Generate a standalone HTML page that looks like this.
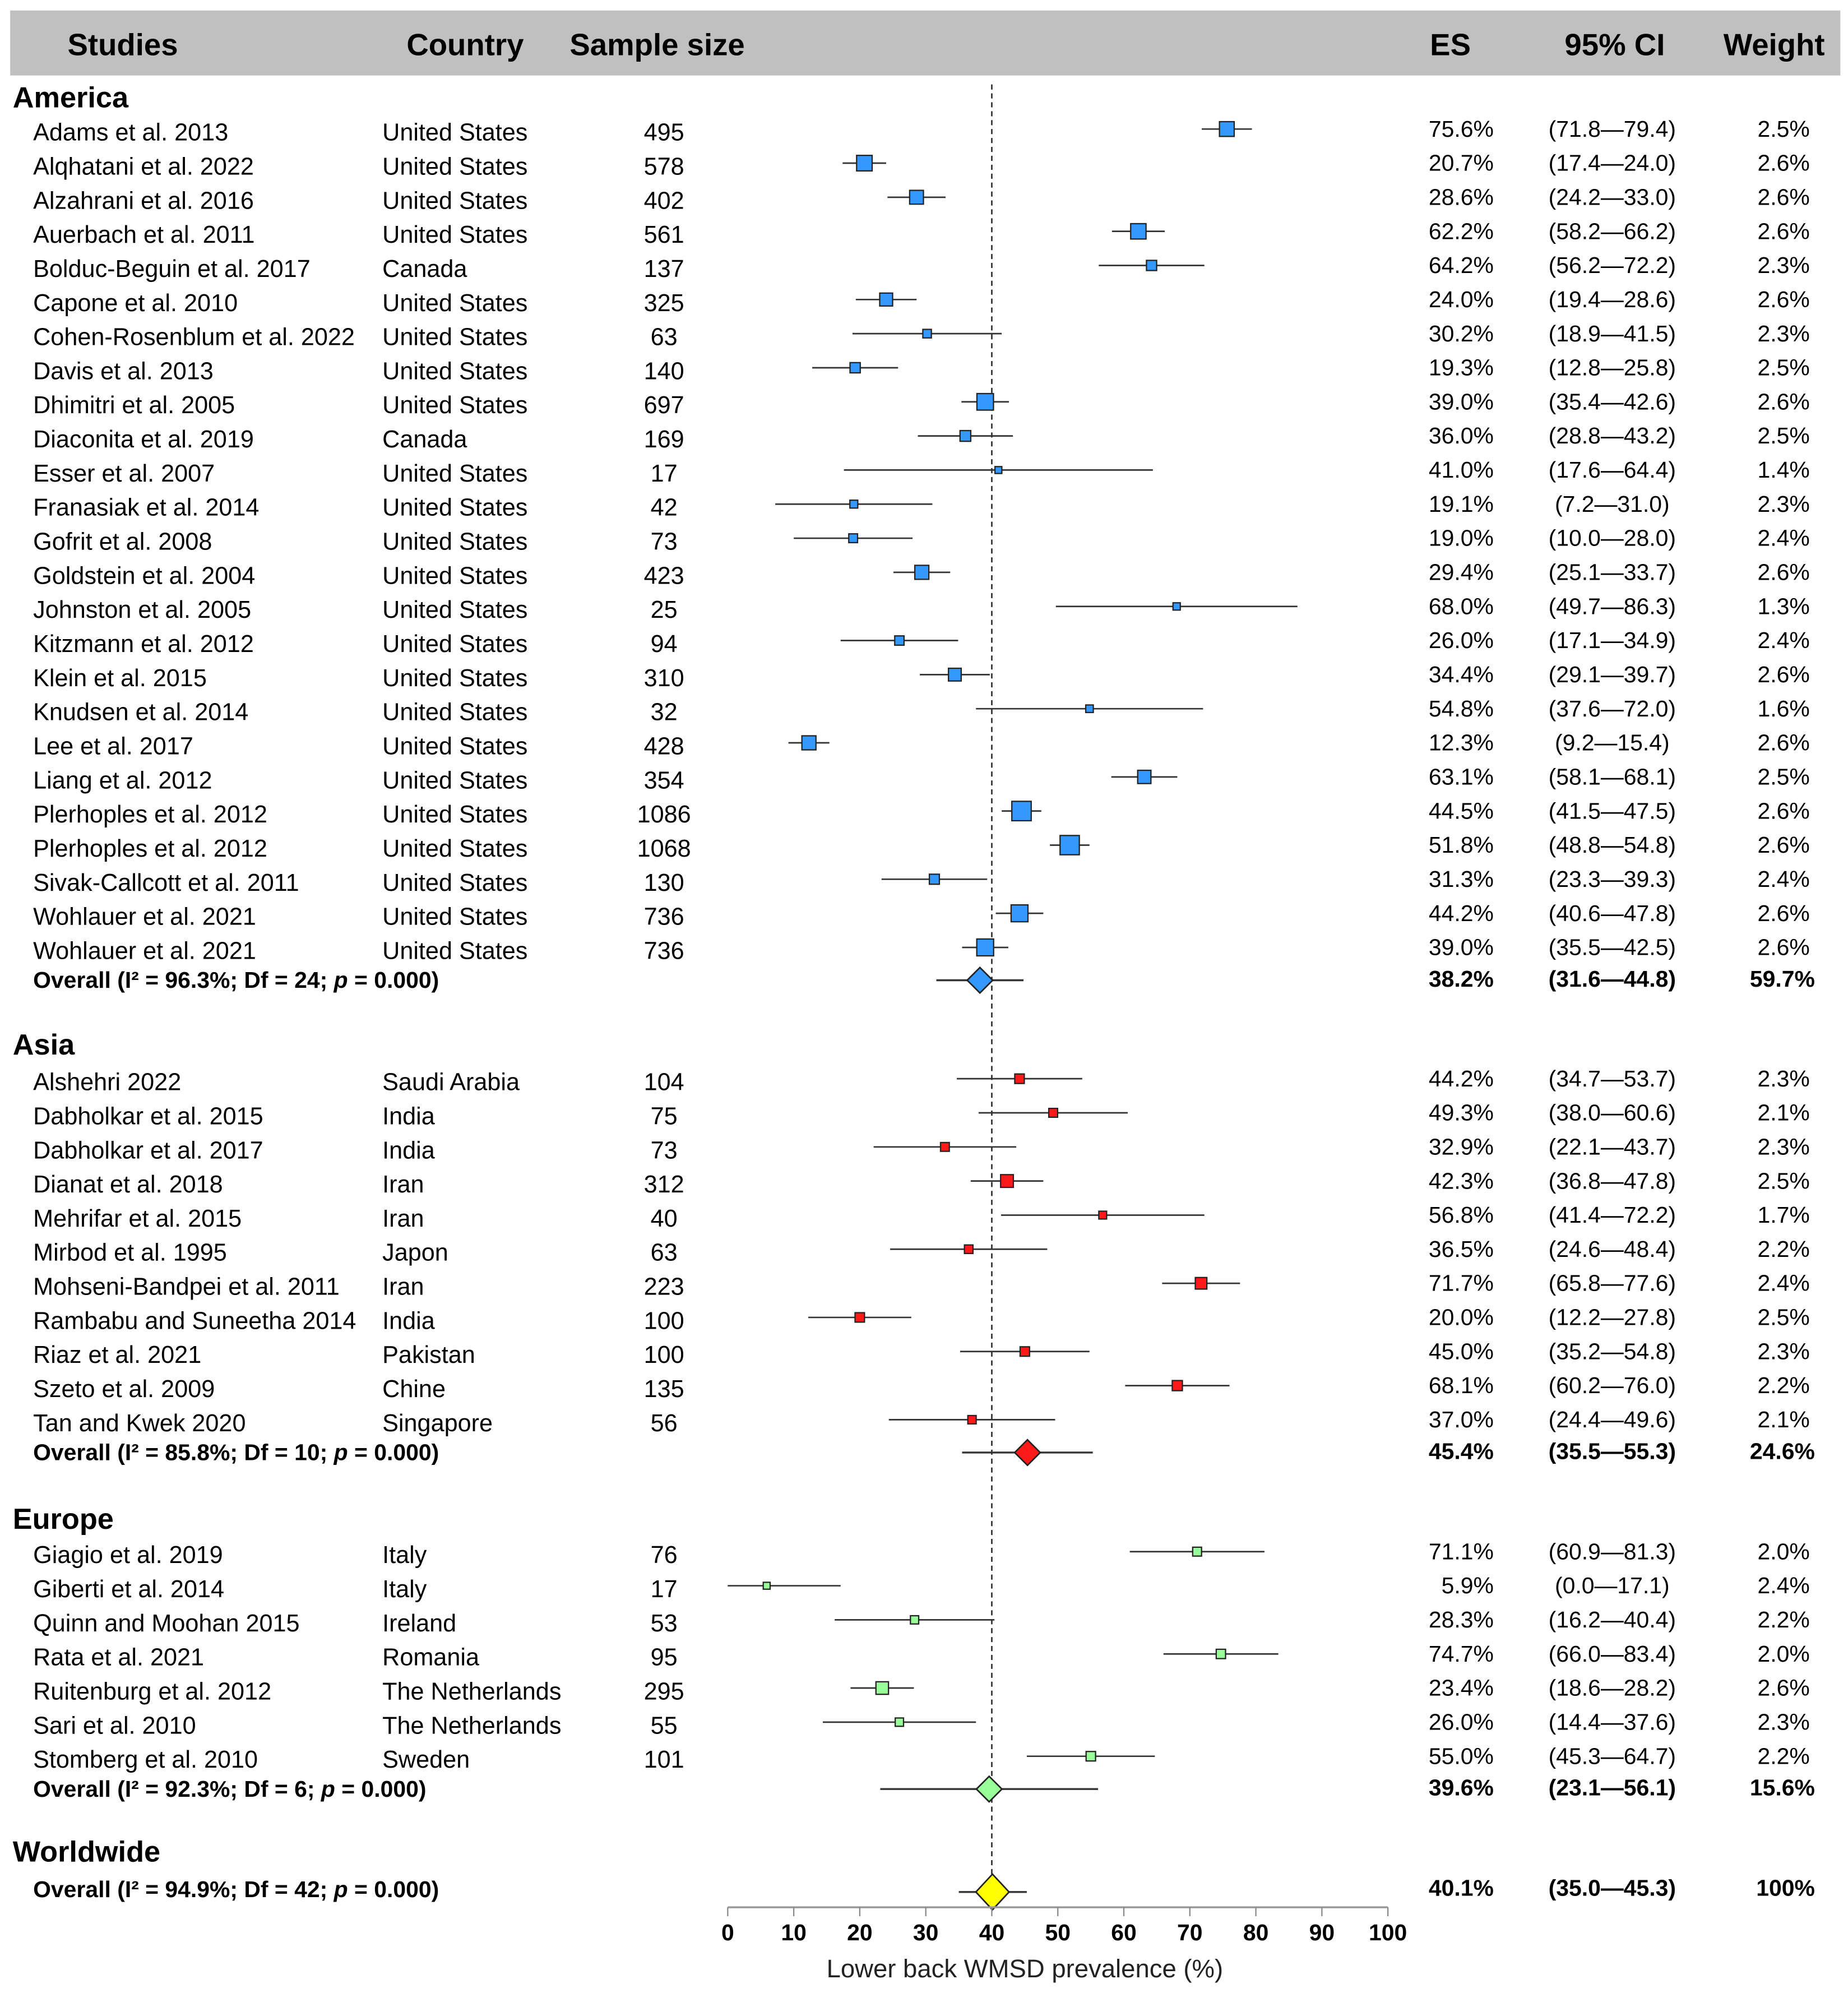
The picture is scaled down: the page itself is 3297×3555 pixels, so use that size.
<!DOCTYPE html>
<html><head><meta charset="utf-8"><style>
html,body{margin:0;padding:0;background:#fff;}
svg{display:block;font-family:"Liberation Sans",sans-serif;}
</style></head><body>
<svg id="chart" width="3297" height="3555" viewBox="0 0 1450 1563" xmlns="http://www.w3.org/2000/svg">
<rect x="8" y="8" width="1436" height="51" fill="#c0c0c0"/>
<g font-weight="bold" font-size="24" fill="#000">
<text x="53" y="43">Studies</text>
<text x="319" y="43">Country</text>
<text x="447" y="43">Sample size</text>
<text x="1138" y="43" text-anchor="middle">ES</text>
<text x="1267" y="43" text-anchor="middle">95% CI</text>
<text x="1392" y="43" text-anchor="middle">Weight</text>
</g>
<g id="plot"></g>
</svg>
<script>
const groupNames=["America","Asia","Europe"];
const groupColors=["#3399ff","#ff1a1a","#99ff99"];
const studies=[["Adams et al. 2013","Alqhatani et al. 2022","Alzahrani et al. 2016","Auerbach et al. 2011","Bolduc-Beguin et al. 2017","Capone et al. 2010","Cohen-Rosenblum et al. 2022","Davis et al. 2013","Dhimitri et al. 2005","Diaconita et al. 2019","Esser et al. 2007","Franasiak et al. 2014","Gofrit et al. 2008","Goldstein et al. 2004","Johnston et al. 2005","Kitzmann et al. 2012","Klein et al. 2015","Knudsen et al. 2014","Lee et al. 2017","Liang et al. 2012","Plerhoples et al. 2012","Plerhoples et al. 2012","Sivak-Callcott et al. 2011","Wohlauer et al. 2021","Wohlauer et al. 2021"],
["Alshehri 2022","Dabholkar et al. 2015","Dabholkar et al. 2017","Dianat et al. 2018","Mehrifar et al. 2015","Mirbod et al. 1995","Mohseni-Bandpei et al. 2011","Rambabu and Suneetha 2014","Riaz et al. 2021","Szeto et al. 2009","Tan and Kwek 2020"],
["Giagio et al. 2019","Giberti et al. 2014","Quinn and Moohan 2015","Rata et al. 2021","Ruitenburg et al. 2012","Sari et al. 2010","Stomberg et al. 2010"]];
const countries=[["United States","United States","United States","United States","Canada","United States","United States","United States","United States","Canada","United States","United States","United States","United States","United States","United States","United States","United States","United States","United States","United States","United States","United States","United States","United States"],
["Saudi Arabia","India","India","Iran","Iran","Japon","Iran","India","Pakistan","Chine","Singapore"],
["Italy","Italy","Ireland","Romania","The Netherlands","The Netherlands","Sweden"]];
const sampleSizes=[[495,578,402,561,137,325,63,140,697,169,17,42,73,423,25,94,310,32,428,354,1086,1068,130,736,736],[104,75,73,312,40,63,223,100,100,135,56],[76,17,53,95,295,55,101]];
const esValues=[[75.6,20.7,28.6,62.2,64.2,24.0,30.2,19.3,39.0,36.0,41.0,19.1,19.0,29.4,68.0,26.0,34.4,54.8,12.3,63.1,44.5,51.8,31.3,44.2,39.0],[44.2,49.3,32.9,42.3,56.8,36.5,71.7,20.0,45.0,68.1,37.0],[71.1,5.9,28.3,74.7,23.4,26.0,55.0]];
const ciLow=[[71.8,17.4,24.2,58.2,56.2,19.4,18.9,12.8,35.4,28.8,17.6,7.2,10.0,25.1,49.7,17.1,29.1,37.6,9.2,58.1,41.5,48.8,23.3,40.6,35.5],[34.7,38.0,22.1,36.8,41.4,24.6,65.8,12.2,35.2,60.2,24.4],[60.9,0.0,16.2,66.0,18.6,14.4,45.3]];
const ciHigh=[[79.4,24.0,33.0,66.2,72.2,28.6,41.5,25.8,42.6,43.2,64.4,31.0,28.0,33.7,86.3,34.9,39.7,72.0,15.4,68.1,47.5,54.8,39.3,47.8,42.5],[53.7,60.6,43.7,47.8,72.2,48.4,77.6,27.8,54.8,76.0,49.6],[81.3,17.1,40.4,83.4,28.2,37.6,64.7]];
const weights=[["2.5%","2.6%","2.6%","2.6%","2.3%","2.6%","2.3%","2.5%","2.6%","2.5%","1.4%","2.3%","2.4%","2.6%","1.3%","2.4%","2.6%","1.6%","2.6%","2.5%","2.6%","2.6%","2.4%","2.6%","2.6%"],["2.3%","2.1%","2.3%","2.5%","1.7%","2.2%","2.4%","2.5%","2.3%","2.2%","2.1%"],["2.0%","2.4%","2.2%","2.0%","2.6%","2.3%","2.2%"]];
const overallLabels=["Overall (I² = 96.3%; Df = 24; ","Overall (I² = 85.8%; Df = 10; ","Overall (I² = 92.3%; Df = 6; ","Overall (I² = 94.9%; Df = 42; "];
const overallES=[38.2,45.4,39.6,40.1];
const overallLow=[31.6,35.5,23.1,35.0];
const overallHigh=[44.8,55.3,56.1,45.3];
const overallWeight=["59.7%","24.6%","15.6%","100%"];
const ticks=[0,10,20,30,40,50,60,70,80,90,100];
const refValue=40;

const NS="http://www.w3.org/2000/svg";
const plot=document.getElementById('plot');
const X=v=>571+v*5.18;
function mk(tag,attrs,parent,txt){const e=document.createElementNS(NS,tag);for(const k in attrs)e.setAttribute(k,attrs[k]);if(txt!==undefined)e.textContent=txt;(parent||plot).appendChild(e);return e;}
const fmt=v=>v.toFixed(1);
const groupTop=[76,819,1191];
const firstRow=[104,849,1220];
const step=26.75;
const axisY=1496;
const ref=mk('line',{x1:X(refValue),x2:X(refValue),y1:66,y2:axisY,stroke:'#333','stroke-width':1.2,'stroke-dasharray':'4,3'});


function diamond(y,i,color,big){
  const w=big?13:10,h=big?14:10;
  const l=mk('line',{x1:X(overallLow[i]),x2:X(overallHigh[i]),y1:y,y2:y,stroke:'#333','stroke-width':1.5});
  
  
  const cx=X(overallES[i]);
  const d=mk('polygon',{points:`${cx-w},${y} ${cx},${y-h} ${cx+w},${y} ${cx},${y+h}`,fill:color,stroke:'#222','stroke-width':1.2});
  
  
}
function overallText(y,i,name){
  const t=mk('text',{x:26,y:y+6,'font-size':18,'font-weight':'bold'});
  
  
  t.textContent=overallLabels[i];
  mk('tspan',{'font-style':'italic'},t,'p');
  mk('tspan',{},t,' = 0.000)');
  const a=mk('text',{x:1172,y:y+5,'font-size':18,'font-weight':'bold','text-anchor':'end'},plot,fmt(overallES[i])+'%');
  
  
  const b=mk('text',{x:1265,y:y+5,'font-size':18,'font-weight':'bold','text-anchor':'middle'},plot,'('+fmt(overallLow[i])+'—'+fmt(overallHigh[i])+')');
  
  
  const c=mk('text',{x:1424,y:y+5,'font-size':18,'font-weight':'bold','text-anchor':'end'},plot,overallWeight[i]);
  
  
}
for(let g=0;g<3;g++){
  const name=groupNames[g].toLowerCase();
  const h=mk('text',{x:10,y:groupTop[g]+8,'font-size':23,'font-weight':'bold'},plot,groupNames[g]);
  
  
  const n=studies[g].length;
  for(let i=0;i<n;i++){
    const y=firstRow[g]+i*step;
    const row=mk('g',{});
    
    
    mk('text',{x:26,y:y+6,'font-size':19},row,studies[g][i]);
    mk('text',{x:300,y:y+6,'font-size':19},row,countries[g][i]);
    mk('text',{x:521,y:y+6,'font-size':19,'text-anchor':'middle'},row,String(sampleSizes[g][i]));
    mk('text',{x:1172,y:y+3,'font-size':18,'text-anchor':'end'},row,fmt(esValues[g][i])+'%');
    mk('text',{x:1265,y:y+3,'font-size':18,'text-anchor':'middle'},row,'('+fmt(ciLow[g][i])+'—'+fmt(ciHigh[g][i])+')');
    mk('text',{x:1420,y:y+3,'font-size':18,'text-anchor':'end'},row,weights[g][i]);
    const my=y-3;
    const l=mk('line',{x1:X(ciLow[g][i]),x2:X(ciHigh[g][i]),y1:my,y2:my,stroke:'#333','stroke-width':1.2},row);
    
    
    const s=2+Math.sqrt(sampleSizes[g][i])*0.17;
    const b=mk('rect',{x:X(esValues[g][i])-s,y:my-s,width:2*s,height:2*s,fill:groupColors[g],stroke:'#222','stroke-width':1},row);
    
    
  }
  const oy=firstRow[g]+n*step-4;
  overallText(oy,g,name);
  diamond(oy,g,groupColors[g],false);
}
const ww=mk('text',{x:10,y:1460,'font-size':23,'font-weight':'bold'},plot,'Worldwide');


overallText(1482,3,'worldwide');
diamond(1484,3,'#ffff00',true);
const ax=mk('g',{});


mk('line',{x1:X(0),x2:X(100),y1:axisY,y2:axisY,stroke:'#999','stroke-width':1.5},ax);
ticks.forEach(t=>{
  mk('line',{x1:X(t),x2:X(t),y1:axisY,y2:axisY+7,stroke:'#888','stroke-width':1},ax);
  const tl=mk('text',{x:X(t),y:1522,'font-size':18,'font-weight':'bold','text-anchor':'middle'},ax,String(t));
  
  
});
const at=mk('text',{x:X(45),y:1551,'font-size':20,'text-anchor':'middle',fill:'#222'},plot,'Lower back WMSD prevalence (%)');


</script>
</body></html>
